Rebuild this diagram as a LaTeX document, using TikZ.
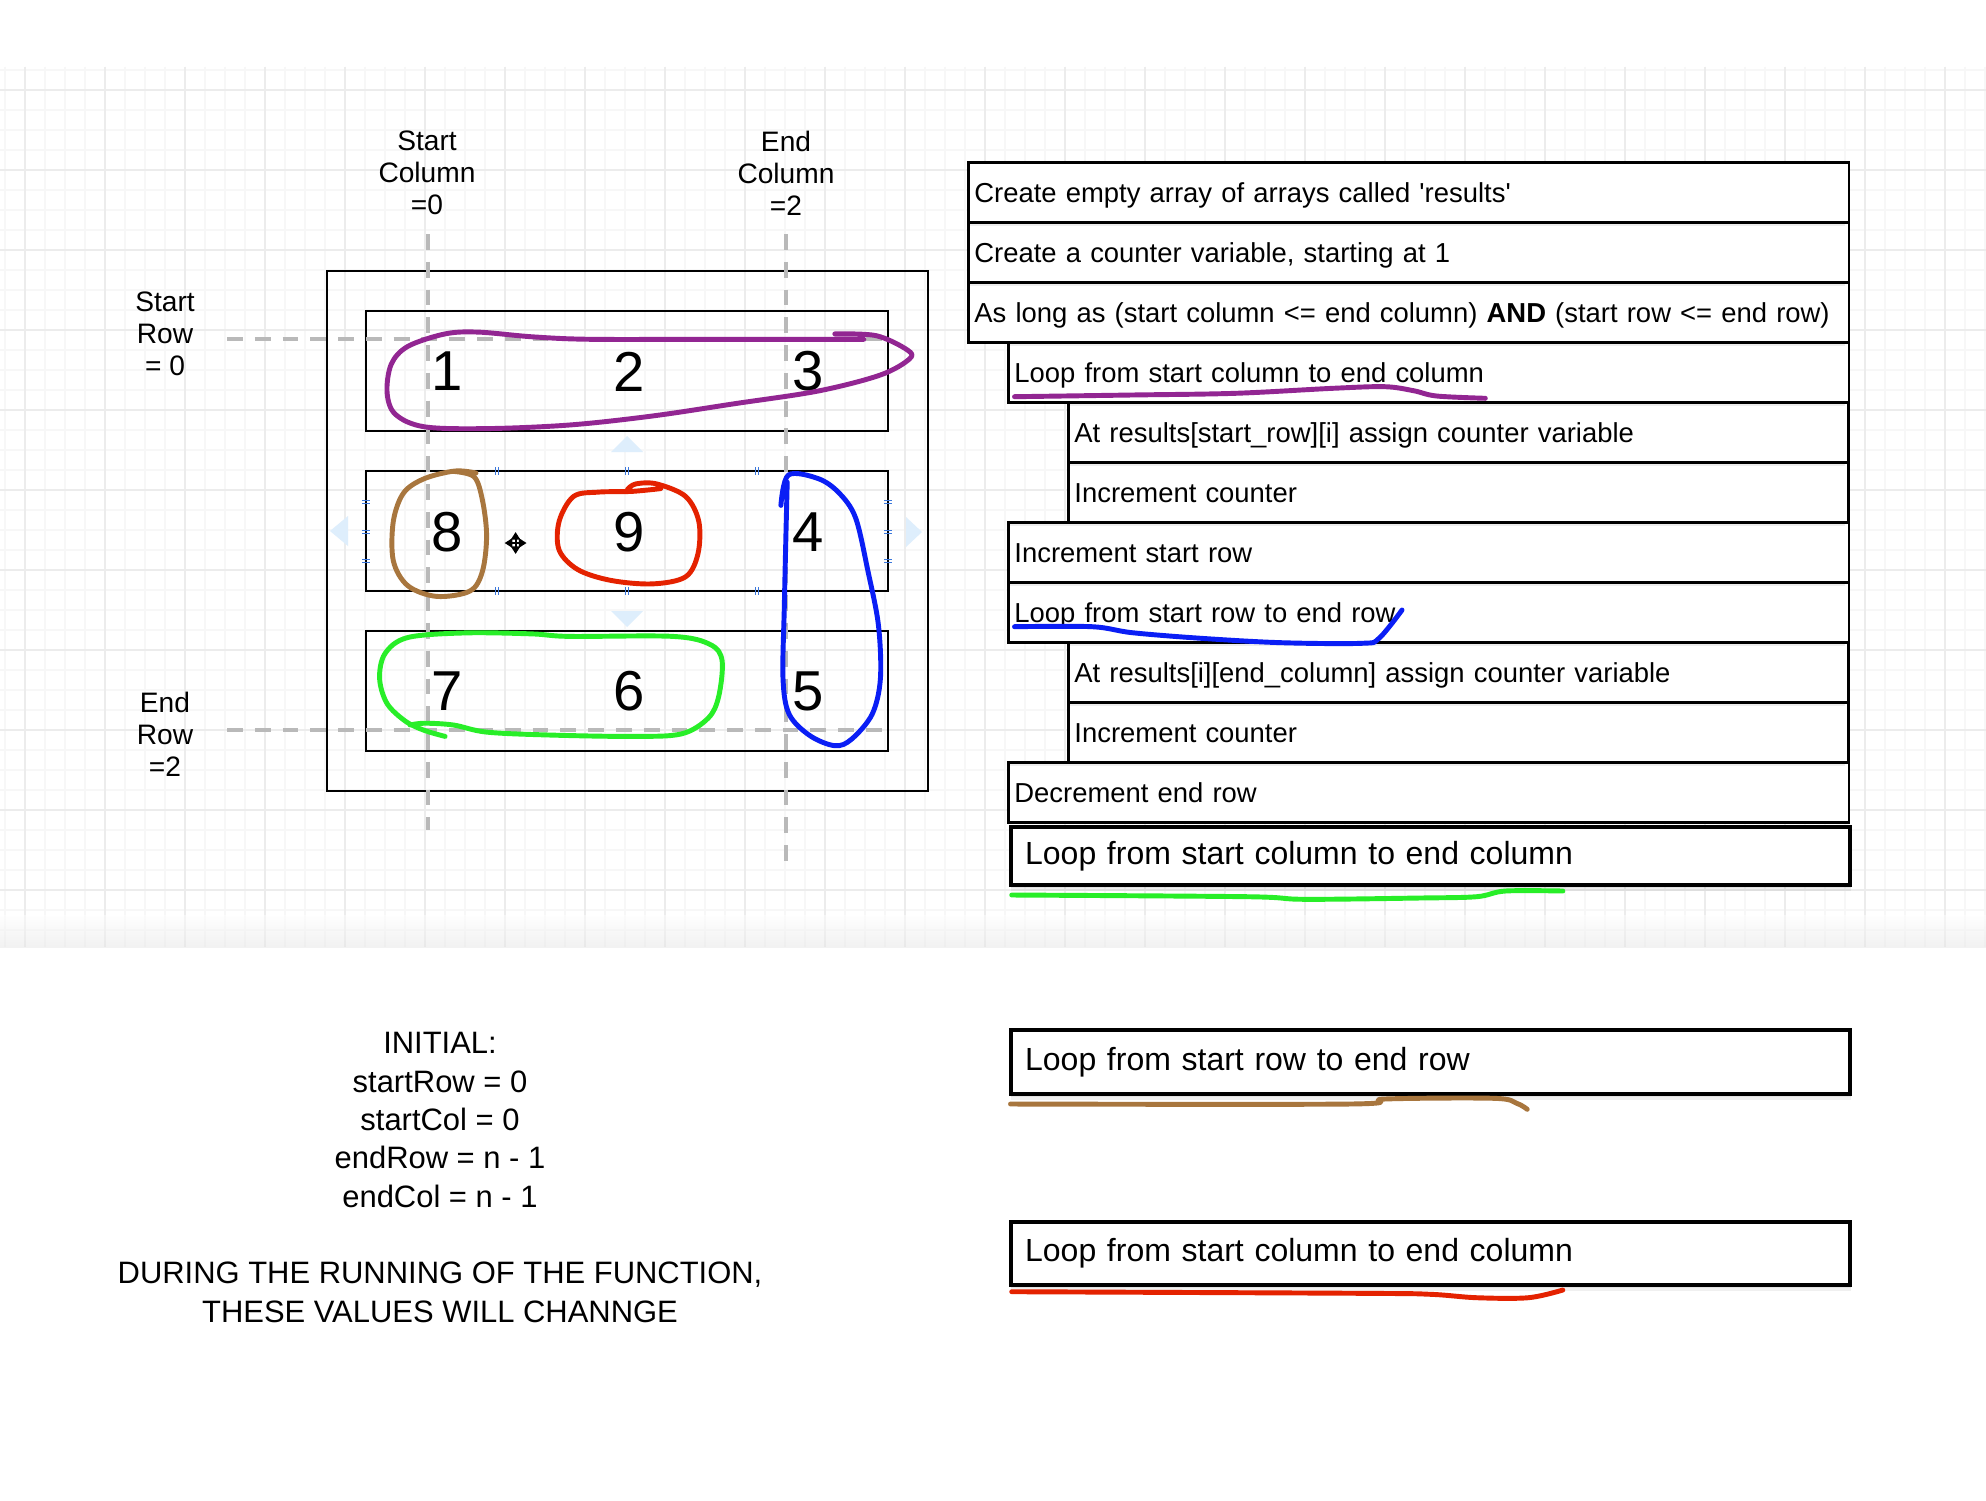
\documentclass[tikz,border=0pt]{standalone}
\usepackage{fontspec}
\setmainfont{Liberation Sans}
\usetikzlibrary{arrows.meta}
\definecolor{hpurple}{RGB}{146,38,146}
\definecolor{hbrown}{RGB}{168,118,62}
\definecolor{hred}{RGB}{228,34,0}
\definecolor{hblue}{RGB}{10,30,245}
\definecolor{hgreen}{RGB}{40,238,40}
\definecolor{dashgray}{RGB}{185,185,185}
\definecolor{handlefill}{RGB}{222,238,252}
\definecolor{tickblue}{RGB}{60,120,220}
\definecolor{minorgrid}{RGB}{247,247,247}
\definecolor{majorgrid}{RGB}{236,236,236}
\tikzset{
  rowbox/.style={draw=black, line width=0.8pt, fill=white, rectangle, anchor=north west,
    inner xsep=0.06cm, inner ysep=0pt, align=left, minimum height=0.6cm, text width=#1,
    text height=7pt, text depth=1.2pt,
    font=\fontsize{7.8}{9.3}\selectfont},
  bigbox/.style={draw=black, line width=1.2pt, fill=white, rectangle, anchor=north west,
    inner xsep=0.14cm, inner ysep=0pt, align=left, text width=8.1cm,
    font=\fontsize{9.1}{11}\selectfont},
  lbl/.style={align=center, inner sep=0pt, font=\fontsize{8}{9.1}\selectfont},
  digit/.style={inner sep=0pt, font=\fontsize{16}{16}\selectfont},
  gridbox/.style={draw=black, line width=0.75pt},
  dashline/.style={draw=dashgray, line width=1.15pt, dash pattern=on 4.5pt off 3.4pt},
  hand/.style={line width=1.4pt, line cap=round, line join=round},
  handle/.style={fill=handlefill, draw=none},
  tick/.style={draw=tickblue, line width=0.45pt},
  rowshadow/.style={draw=black, opacity=0.07, line width=1.3pt},
}
\begin{document}
\begin{tikzpicture}[x=0.01cm, y=-0.01cm]
\useasboundingbox (0,0) rectangle (1986,1500);
\fill[white] (0,0) rectangle (1986,1500);
% background grid
\foreach \x in {5,25,...,1985} \draw[minorgrid, line width=0.35pt] (\x,67) -- (\x,947);
\foreach \y in {70,90,...,930} \draw[minorgrid, line width=0.35pt] (0,\y) -- (1986,\y);
\foreach \x in {25,105,...,1985} \draw[majorgrid, line width=0.4pt] (\x,67) -- (\x,947);
\foreach \y in {90,170,...,890} \draw[majorgrid, line width=0.4pt] (0,\y) -- (1986,\y);
\shade[top color=white, bottom color=black!10, opacity=0.5] (0,915) rectangle (1986,947);

% grid of numbers
\draw[gridbox] (327,271) rectangle (928,791);
\draw[gridbox] (366,311) rectangle (888,431);
\draw[gridbox] (366,471) rectangle (888,591);
\draw[gridbox] (366,631) rectangle (888,751);

% selection handles around middle row
\fill[handle] (330,531) -- (348,516) -- (348,546) -- cycle;
\fill[handle] (922,532) -- (906,517) -- (906,547) -- cycle;
\fill[handle] (627,436) -- (611,452) -- (643,452) -- cycle;
\fill[handle] (627,627) -- (611,611) -- (643,611) -- cycle;
\foreach \x in {497,627,757} {
  \draw[tick] (\x-1.5,467) -- (\x-1.5,475); \draw[tick] (\x+1.5,467) -- (\x+1.5,475);
  \draw[tick] (\x-1.5,587) -- (\x-1.5,595); \draw[tick] (\x+1.5,587) -- (\x+1.5,595);
}
\foreach \y in {502,532,561} {
  \draw[tick] (362,\y-1.5) -- (370,\y-1.5); \draw[tick] (362,\y+1.5) -- (370,\y+1.5);
  \draw[tick] (884,\y-1.5) -- (892,\y-1.5); \draw[tick] (884,\y+1.5) -- (892,\y+1.5);
}

% dashed guide lines
\draw[dashline] (427.7,234) -- (427.7,830);
\draw[dashline] (786.3,234) -- (786.3,861);
\draw[dashline] (227,339.3) -- (887,339.3);
\draw[dashline] (227,729.6) -- (887,729.6);

% labels
\node[lbl] (sc) at (427,173) {Start\\Column\\=0};
\node[lbl] (ec) at (786,173) {End\\Column\\=2};
\node[lbl] (sr) at (165,334) {Start\\Row\\= 0};
\node[lbl] (er) at (165,734) {End\\Row\\=2};

% digits
\node[digit] (n1) at (447,371.5) {1};
\node[digit] (n2) at (629,371.5) {2};
\node[digit] (n3) at (808,371.5) {3};
\node[digit] (n8) at (447,532) {8};
\node[digit] (n9) at (629,532) {9};
\node[digit] (n4) at (808,532) {4};
\node[digit] (n7) at (447,691) {7};
\node[digit] (n6) at (629,691) {6};
\node[digit] (n5) at (808,691) {5};

% move cursor
\coordinate (mc) at (515.6,543);
\foreach \dx/\dy in {0/-11,0/11,-11/0,11/0}
  \draw[line width=0.6pt, -{Triangle[length=2.2pt,width=2.6pt]}] (mc) -- ++(\dx,\dy);

% hand-drawn loops
\draw[hand, hpurple] plot[smooth, tension=0.55] coordinates {(834.8,333.9) (876.3,335.7) (907.4,350) (909.5,358.9) (880.4,375) (818.2,391) (735.3,403.6) (652.4,416) (569.5,425) (486.6,428.6) (424.4,426.8) (395.4,414.3) (387.1,392.9) (391.2,364.3) (407.8,346.4) (445.1,333.9) (478.3,332.1) (532.2,336.8) (590.2,339.3) (714.6,339.3) (863.8,339.3)};
\draw[hand, hbrown] plot[smooth, tension=0.55] coordinates {(453.4,471.4) (474.1,476.8) (482.4,500) (486.6,535.7) (482.4,571.4) (470,591) (436.8,596.4) (407.8,585.7) (393.3,560.7) (393.3,521.4) (403.6,492.9) (424.4,478.6) (455,471) (476,473)};
\draw[hand, hred] plot[smooth, tension=0.55] coordinates {(627.5,489.3) (635.8,483.9) (656.6,483.9) (685.6,496.4) (698.8,521.4) (698,553.6) (685.6,576.8) (652.4,583.9) (610.9,580.4) (577.8,569.6) (559.1,550) (559.1,521.4) (573.6,496.4) (598.5,492.1) (631.7,491.4) (660.7,488.6)};
\draw[hand, hblue] plot[smooth, tension=0.55] coordinates {(780.9,505.4) (788.4,475) (818.2,478.6) (839,492.9) (855.6,517.9) (868,571.4) (878.4,625) (880.4,678.6) (872.1,714.3) (851.4,739.3) (834.8,745.7) (810,735.7) (789.2,714.3) (783,678.6) (784.3,607.1) (785.9,535.7) (787.2,482.1)};
\draw[hand, hgreen] plot[smooth, tension=0.55] coordinates {(445.1,736.4) (424.4,730.4) (405.7,721.4) (387.1,703.6) (379.6,678.6) (385,653.6) (407.8,637.5) (465.8,632.9) (532.2,633.9) (569.5,636.4) (673.1,636.4) (710.4,644.6) (722.1,660.7) (718.7,696.4) (708.4,717.9) (681.4,733.9) (631.7,736.4) (548.8,735) (486.6,732.1) (453.4,725) (424.4,723.2) (409.9,725)};

% table of steps
\node[rowbox=8.68cm] (r1) at (967,161) {Create empty array of arrays called \textquotesingle results\textquotesingle};
\node[rowbox=8.68cm] (r2) at (967,221) {Create a counter variable, starting at 1};
\node[rowbox=8.68cm] (r3) at (967,281) {As long as (start column <= end column) \textbf{AND} (start row <= end row)};
\node[rowbox=8.28cm] (r4) at (1007,341) {Loop from start column to end column};
\node[rowbox=7.68cm] (r5) at (1067,401) {At results[start\_row][i] assign counter variable};
\node[rowbox=7.68cm] (r6) at (1067,461) {Increment counter};
\node[rowbox=8.28cm] (r7) at (1007,521) {Increment start row};
\node[rowbox=8.28cm] (r8) at (1007,581) {Loop from start row to end row};
\node[rowbox=7.68cm] (r9) at (1067,641) {At results[i][end\_column] assign counter variable};
\node[rowbox=7.68cm] (r10) at (1067,701) {Increment counter};
\node[rowbox=8.28cm] (r11) at (1007,761) {Decrement end row};
% soft shadows under the row borders
\foreach \y in {224,284} \draw[rowshadow] (969,\y) -- (1845,\y);
\foreach \y in {344,524,584,764} \draw[rowshadow] (1009,\y) -- (1845,\y);
\foreach \y in {404,464,644,704} \draw[rowshadow] (1069,\y) -- (1845,\y);

% shadows of the thick boxes
\foreach \a/\b in {825/883,1028/1092,1220/1283} {
  \foreach \d in {2,5,8} \fill[black, opacity=0.06] (1011,\a+\d) rectangle (1849+\d*0.3,\b+\d);
}
\node[bigbox, minimum height=0.58cm] (r12) at (1009,825) {Loop from start column to end column};
\node[bigbox, minimum height=0.64cm] (b1) at (1009,1028) {Loop from start row to end row};
\node[bigbox, minimum height=0.63cm] (b2) at (1009,1220) {Loop from start column to end column};

% hand-drawn underlines
\draw[hand, hpurple] plot[smooth, tension=0.55] coordinates {(1014.5,396.7) (1132,395) (1235.6,393.3) (1333,388.3) (1384.8,386.7) (1413.5,390.7) (1436.5,396) (1485.3,398.3)};
\draw[hand, hblue] plot[smooth, tension=0.55] coordinates {(1014.5,626.7) (1092,626.7) (1132.2,632.7) (1201,638.3) (1281.5,642.7) (1361.8,643.3) (1379,638.3) (1402,610)};
\draw[hand, hgreen] plot[smooth, tension=0.55] coordinates {(1011.7,895) (1247,896.7) (1304.4,899.3) (1420,898) (1476.6,896.7) (1505.4,891) (1562.8,891)};
\draw[hand, hbrown] plot[smooth, tension=0.55] coordinates {(1010.5,1104) (1350.4,1104) (1384.8,1099) (1493.9,1098.3) (1516.8,1103.3) (1527.2,1109.3)};
\draw[hand, hred] plot[smooth, tension=0.55] coordinates {(1011.7,1291.7) (1361.8,1293.3) (1430.7,1294.3) (1476.6,1297.7) (1528.3,1297.7) (1562.8,1290)};

% initial values note
\node[align=center, inner sep=0pt, font=\fontsize{8.8}{10.9}\selectfont] (init) at (440,1177.5)
  {INITIAL:\\startRow = 0\\startCol = 0\\endRow = n - 1\\endCol = n - 1\\[10.9pt]DURING THE RUNNING OF THE FUNCTION,\\THESE VALUES WILL CHANNGE};
\end{tikzpicture}
\end{document}
